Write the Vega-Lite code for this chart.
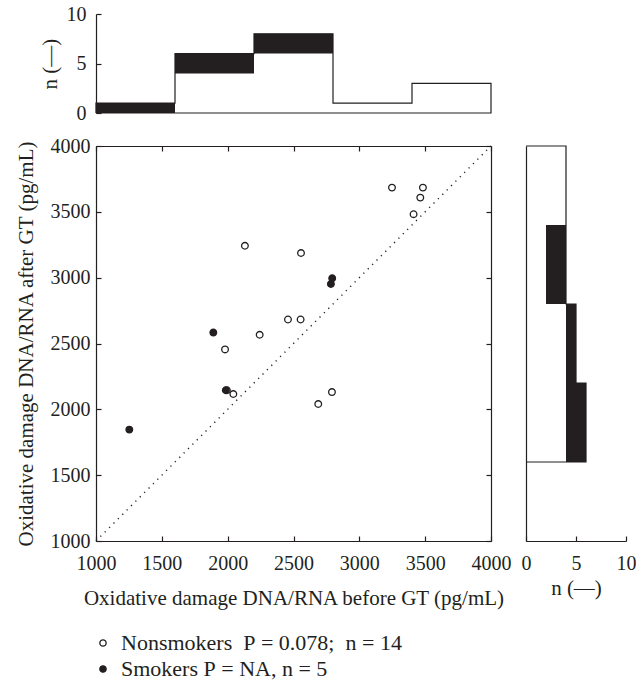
{
  "$schema": "https://vega.github.io/schema/vega-lite/v6.json",
  "padding": {"left": 15, "top": 4, "right": 0, "bottom": 5},
  "background": "white",
  "datasets": {
    "points": [
      {"group": "Nonsmokers", "before": 3248, "after": 3684},
      {"group": "Nonsmokers", "before": 3483, "after": 3684},
      {"group": "Nonsmokers", "before": 3463, "after": 3608},
      {"group": "Nonsmokers", "before": 3412, "after": 3482},
      {"group": "Nonsmokers", "before": 2131, "after": 3242},
      {"group": "Nonsmokers", "before": 2557, "after": 3187},
      {"group": "Nonsmokers", "before": 2458, "after": 2682},
      {"group": "Nonsmokers", "before": 2554, "after": 2682},
      {"group": "Nonsmokers", "before": 2243, "after": 2566},
      {"group": "Nonsmokers", "before": 1980, "after": 2455},
      {"group": "Nonsmokers", "before": 2043, "after": 2116},
      {"group": "Nonsmokers", "before": 2792, "after": 2131},
      {"group": "Nonsmokers", "before": 2688, "after": 2040},
      {"group": "Nonsmokers", "before": 1994, "after": 2145},
      {"group": "Smokers", "before": 2794, "after": 2995},
      {"group": "Smokers", "before": 2784, "after": 2952},
      {"group": "Smokers", "before": 1891, "after": 2583},
      {"group": "Smokers", "before": 1986, "after": 2145},
      {"group": "Smokers", "before": 1253, "after": 1846}
    ],
    "topbars": [
      {"lo": 1000, "hi": 1600, "group": "Smokers", "n": 1},
      {"lo": 1600, "hi": 2200, "group": "Nonsmokers", "n": 4},
      {"lo": 1600, "hi": 2200, "group": "Smokers", "n": 2},
      {"lo": 2200, "hi": 2800, "group": "Nonsmokers", "n": 6},
      {"lo": 2200, "hi": 2800, "group": "Smokers", "n": 2},
      {"lo": 2800, "hi": 3400, "group": "Nonsmokers", "n": 1},
      {"lo": 3400, "hi": 4000, "group": "Nonsmokers", "n": 3}
    ],
    "topline": [
      {"i": 0, "x": 1000, "n": 0},
      {"i": 1, "x": 1000, "n": 1},
      {"i": 2, "x": 1600, "n": 1},
      {"i": 3, "x": 1600, "n": 6},
      {"i": 4, "x": 2200, "n": 6},
      {"i": 5, "x": 2200, "n": 8},
      {"i": 6, "x": 2800, "n": 8},
      {"i": 7, "x": 2800, "n": 1},
      {"i": 8, "x": 3400, "n": 1},
      {"i": 9, "x": 3400, "n": 3},
      {"i": 10, "x": 4000, "n": 3},
      {"i": 11, "x": 4000, "n": 0},
      {"i": 12, "x": 1000, "n": 0}
    ],
    "rightbars": [
      {"lo": 1600, "hi": 2200, "group": "Nonsmokers", "n": 4},
      {"lo": 1600, "hi": 2200, "group": "Smokers", "n": 2},
      {"lo": 2200, "hi": 2800, "group": "Nonsmokers", "n": 4},
      {"lo": 2200, "hi": 2800, "group": "Smokers", "n": 1},
      {"lo": 2800, "hi": 3400, "group": "Nonsmokers", "n": 2},
      {"lo": 2800, "hi": 3400, "group": "Smokers", "n": 2},
      {"lo": 3400, "hi": 4000, "group": "Nonsmokers", "n": 4}
    ],
    "rightline": [
      {"i": 0, "n": 0, "v": 4000},
      {"i": 1, "n": 4, "v": 4000},
      {"i": 2, "n": 4, "v": 2800},
      {"i": 3, "n": 5, "v": 2800},
      {"i": 4, "n": 5, "v": 2200},
      {"i": 5, "n": 6, "v": 2200},
      {"i": 6, "n": 6, "v": 1600},
      {"i": 7, "n": 0, "v": 1600}
    ],
    "diag": [{"v": 1000}, {"v": 4000}]
  },
  "columns": 2,
  "bounds": "flush",
  "spacing": {"row": 33, "column": 35},
  "concat": [
    {
      "width": 395,
      "height": 99,
      "layer": [
        {
          "data": {"name": "topbars"},
          "transform": [{"stack": "n", "groupby": ["lo"], "sort": [{"field": "group", "order": "ascending"}], "as": ["s0", "s1"]}],
          "mark": {"type": "rect", "strokeWidth": 0},
          "encoding": {
            "x": {"field": "lo", "type": "quantitative", "scale": {"domain": [1000, 4000], "nice": false, "zero": false}, "axis": null},
            "x2": {"field": "hi"},
            "y": {"field": "s0", "type": "quantitative", "scale": {"domain": [0, 10], "nice": false}, "axis": {"orient": "left", "values": [0, 5, 10], "format": "d", "title": "n (—)", "labelPadding": 15, "titlePadding": 6}},
            "y2": {"field": "s1"},
            "fill": {"condition": {"test": "datum.group === 'Smokers'", "value": "#231f20"}, "value": "transparent"}
          }
        },
        {
          "data": {"name": "topline"},
          "mark": {"type": "line", "color": "#231f20", "strokeWidth": 1.2},
          "encoding": {
            "x": {"field": "x", "type": "quantitative", "axis": null},
            "y": {"field": "n", "type": "quantitative"},
            "order": {"field": "i", "type": "quantitative"}
          }
        }
      ]
    },
    {
      "width": 100,
      "height": 99,
      "data": {"values": []},
      "mark": "point",
      "encoding": {}
    },
    {
      "width": 395,
      "height": 395,
      "layer": [
        {
          "data": {"name": "diag"},
          "mark": {"type": "line", "color": "#231f20", "strokeWidth": 1.4, "strokeDash": [1.2, 5]},
          "encoding": {
            "x": {"field": "v", "type": "quantitative", "scale": {"domain": [1000, 4000], "nice": false, "zero": false}, "axis": {"orient": "top", "values": [1000, 1500, 2000, 2500, 3000, 3500, 4000], "labels": false, "title": null}},
            "y": {"field": "v", "type": "quantitative", "scale": {"domain": [1000, 4000], "nice": false, "zero": false}, "axis": {"orient": "right", "values": [1000, 1500, 2000, 2500, 3000, 3500, 4000], "labels": false, "title": null}}
          }
        },
        {
          "data": {"name": "points"},
          "mark": {"type": "circle", "stroke": "#231f20", "strokeWidth": 1.3, "size": 44, "opacity": 1},
          "encoding": {
            "x": {"field": "before", "type": "quantitative", "axis": {"orient": "bottom", "values": [1000, 1500, 2000, 2500, 3000, 3500, 4000], "format": "d", "title": "Oxidative damage DNA/RNA before GT (pg/mL)", "labelPadding": 17, "titlePadding": 14}},
            "y": {"field": "after", "type": "quantitative", "axis": {"orient": "left", "values": [1000, 1500, 2000, 2500, 3000, 3500, 4000], "format": "d", "title": "Oxidative damage DNA/RNA after GT (pg/mL)", "labelPadding": 11, "titlePadding": 14}},
            "fill": {
              "field": "group", "type": "nominal",
              "scale": {"domain": ["Nonsmokers", "Smokers"], "range": ["#ffffff", "#231f20"]},
              "legend": {
                "orient": "none", "legendX": -4, "legendY": 618, "title": null, "direction": "vertical",
                "labelExpr": "datum.label == 'Nonsmokers' ? 'Nonsmokers\u00a0\u00a0P\u00a0=\u00a00.078;\u00a0\u00a0n\u00a0=\u00a014' : 'Smokers\u00a0P\u00a0=\u00a0NA,\u00a0n\u00a0=\u00a05'"
              }
            }
          }
        }
      ],
      "resolve": {"axis": {"x": "independent", "y": "independent"}}
    },
    {
      "width": 100,
      "height": 395,
      "layer": [
        {
          "data": {"name": "rightbars"},
          "transform": [{"stack": "n", "groupby": ["lo"], "sort": [{"field": "group", "order": "ascending"}], "as": ["s0", "s1"]}],
          "mark": {"type": "rect", "strokeWidth": 0},
          "encoding": {
            "y": {"field": "lo", "type": "quantitative", "scale": {"domain": [1000, 4000], "nice": false, "zero": false}, "axis": {"orient": "left", "labels": false, "ticks": false, "title": null}},
            "y2": {"field": "hi"},
            "x": {"field": "s0", "type": "quantitative", "scale": {"domain": [0, 10], "nice": false}, "axis": {"orient": "bottom", "values": [0, 5, 10], "format": "d", "title": "n (—)", "labelPadding": 17, "titlePadding": 4}},
            "x2": {"field": "s1"},
            "fill": {"condition": {"test": "datum.group === 'Smokers'", "value": "#231f20"}, "value": "transparent"}
          }
        },
        {
          "data": {"name": "rightline"},
          "mark": {"type": "line", "color": "#231f20", "strokeWidth": 1.2},
          "encoding": {
            "x": {"field": "n", "type": "quantitative"},
            "y": {"field": "v", "type": "quantitative"},
            "order": {"field": "i", "type": "quantitative"}
          }
        }
      ]
    }
  ],
  "config": {
    "font": "Liberation Serif",
    "view": {"stroke": null},
    "axis": {
      "grid": false, "zindex": 1,
      "domainColor": "#231f20", "domainWidth": 1.2,
      "tickColor": "#231f20", "tickWidth": 1.2, "tickSize": -5,
      "labelFont": "Liberation Serif", "labelFontSize": 20, "labelColor": "#231f20",
      "labelFlush": false, "labelOverlap": false,
      "titleFont": "Liberation Serif", "titleFontSize": 21, "titleFontWeight": "normal", "titleColor": "#231f20"
    },
    "legend": {
      "labelFont": "Liberation Serif", "labelFontSize": 22, "labelColor": "#231f20", "labelLimit": 0,
      "symbolType": "circle", "symbolSize": 40, "symbolStrokeColor": "#231f20", "symbolStrokeWidth": 1.3,
      "rowPadding": 4, "labelOffset": 7, "padding": 0
    }
  }
}
